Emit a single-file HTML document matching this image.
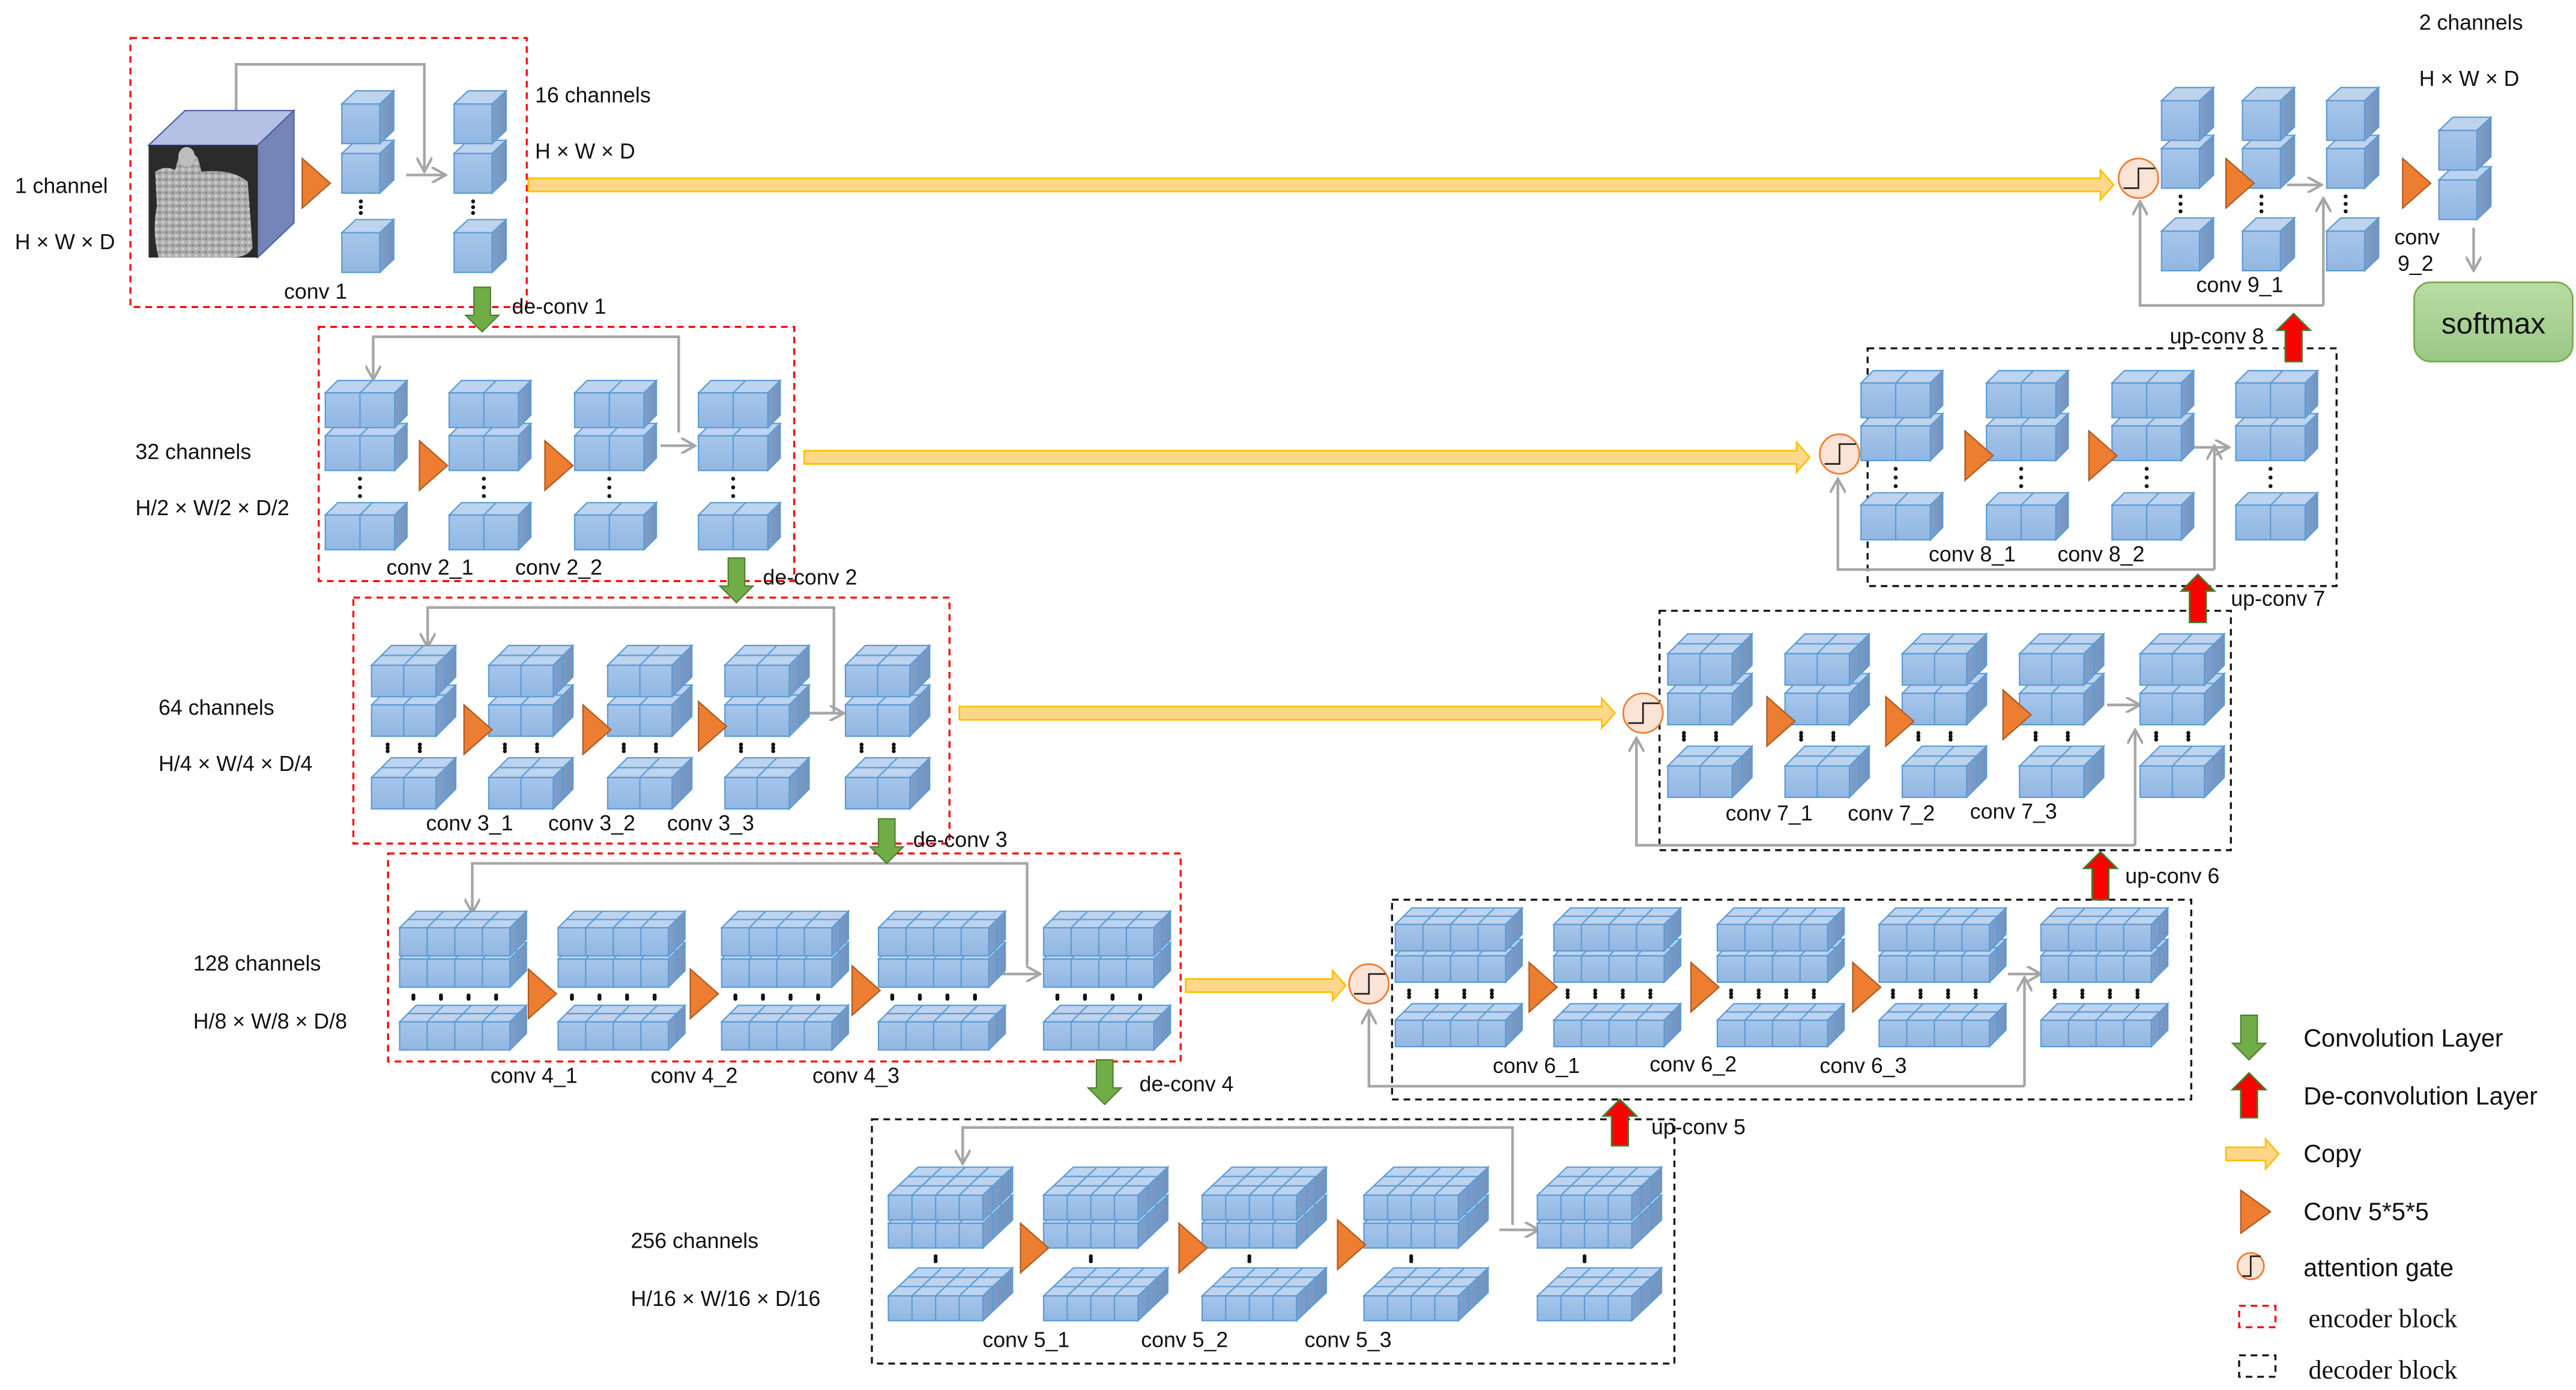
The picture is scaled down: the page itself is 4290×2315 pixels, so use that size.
<!DOCTYPE html>
<html><head><meta charset="utf-8">
<style>
html,body{margin:0;padding:0;background:#fff;}
svg{display:block;}
text{font-family:"Liberation Sans",sans-serif;fill:#111;}
</style></head>
<body>
<svg id="s" xmlns="http://www.w3.org/2000/svg" width="4290" height="2315" viewBox="0 0 1560 842" preserveAspectRatio="none">
<defs>
<linearGradient id="gf" x1="0" y1="0" x2="0" y2="1"><stop offset="0" stop-color="#a7c5ea"/><stop offset="1" stop-color="#91b7e2"/></linearGradient>
<linearGradient id="gs" x1="0" y1="0" x2="1" y2="0"><stop offset="0" stop-color="#7f9fcb"/><stop offset="1" stop-color="#7393bd"/></linearGradient>
<linearGradient id="gsm" x1="0" y1="0" x2="0" y2="1"><stop offset="0" stop-color="#b9dca5"/><stop offset="1" stop-color="#9cc785"/></linearGradient>
<pattern id="noise" width="4" height="4" patternUnits="userSpaceOnUse"><rect width="4" height="4" fill="#b0b0b0"/><rect x="0" y="0" width="1.5" height="1.5" fill="#8a8a8a"/><rect x="2" y="2" width="1.5" height="1.5" fill="#d0d0d0"/><rect x="2.5" y="0.3" width="1" height="1" fill="#999"/></pattern>
<marker id="ga" viewBox="0 0 10 10" refX="9" refY="5" markerWidth="6" markerHeight="6" orient="auto"><path d="M0,0 L9,5 L0,10" fill="none" stroke="#a6a6a6" stroke-width="1.6"/></marker>
</defs>
<g id="root"></g>
</svg>
<script>
var R=document.getElementById('root');var out=[];
function P(s){out.push(s);}
function slab(x,y,cols,w,h,dx,dy,rows){
 var W=cols*w, st='stroke="#5b9bd5" stroke-width="0.8"';
 P('<polygon points="'+x+','+y+' '+(x+W)+','+y+' '+(x+W+dx)+','+(y-dy)+' '+(x+dx)+','+(y-dy)+'" fill="#bdd3ee" '+st+'/>');
 P('<polygon points="'+(x+W)+','+y+' '+(x+W+dx)+','+(y-dy)+' '+(x+W+dx)+','+(y+h-dy)+' '+(x+W)+','+(y+h)+'" fill="url(#gs)" '+st+'/>');
 P('<rect x="'+x+'" y="'+y+'" width="'+W+'" height="'+h+'" fill="url(#gf)" '+st+'/>');
 for(var i=1;i<cols;i++){var xx=x+i*w;P('<line x1="'+xx+'" y1="'+y+'" x2="'+xx+'" y2="'+(y+h)+'" '+st+'/><line x1="'+xx+'" y1="'+y+'" x2="'+(xx+dx)+'" y2="'+(y-dy)+'" '+st+'/>');}
 for(var r=1;r<rows;r++){var f=r/rows;P('<line x1="'+(x+dx*f)+'" y1="'+(y-dy*f)+'" x2="'+(x+W+dx*f)+'" y2="'+(y-dy*f)+'" '+st+'/><line x1="'+(x+W+dx*f)+'" y1="'+(y-dy*f)+'" x2="'+(x+W+dx*f)+'" y2="'+(y+h-dy*f)+'" '+st+'/>');}
}
function stack(x,c){
 var W=c.cols*c.w;
 if(c.b!=null)slab(x,c.b,c.cols,c.w,c.h,c.dx,c.dy,c.rows);
 slab(x,c.s,c.cols,c.w,c.h,c.dx,c.dy,c.rows);
 slab(x,c.t,c.cols,c.w,c.h,c.dx,c.dy,c.rows);
 if(c.b!=null){var nd=c.dots||1;var y1=c.s+c.h+5,y2=c.b-c.dy-4;
  for(var k=0;k<nd;k++){var cx=nd==1?x+W/2:x+c.w*(k+0.5);
   for(var j=0;j<3;j++){P('<circle cx="'+cx+'" cy="'+(y1+(y2-y1)*j/2)+'" r="1.2" fill="#111"/>');}}}
}
function level(xs,c){xs.forEach(function(x){stack(x,c);});}
function tri(x,cy){P('<polygon points="'+x+','+(cy-15)+' '+(x+17)+','+cy+' '+x+','+(cy+15)+'" fill="#ed7d31" stroke="#ae5a21" stroke-width="0.8"/>');}
function gline(pts,arrow){P('<polyline points="'+pts+'" fill="none" stroke="#a6a6a6" stroke-width="1.6" '+(arrow?'marker-end="url(#ga)"':'')+'/>');}
function copy(x1,x2,y){P('<polygon points="'+x1+','+(y-4)+' '+(x2-8)+','+(y-4)+' '+(x2-8)+','+(y-9)+' '+x2+','+y+' '+(x2-8)+','+(y+9)+' '+(x2-8)+','+(y+4)+' '+x1+','+(y+4)+'" fill="#ffd78a" stroke="#ffc000" stroke-width="1"/>');}
function gate(cx,cy,r){P('<ellipse cx="'+cx+'" cy="'+cy+'" rx="'+r+'" ry="'+r+'" fill="#fbe3d5" stroke="#ed7d31" stroke-width="1"/><polyline points="'+(cx-r+3)+','+(cy+6)+' '+cx+','+(cy+6)+' '+cx+','+(cy-6)+' '+(cx+r-2)+','+(cy-6)+'" fill="none" stroke="#222" stroke-width="1"/>');}
function down(cx,y1,y2){P('<polygon points="'+(cx-5)+','+y1+' '+(cx+5)+','+y1+' '+(cx+5)+','+(y2-10)+' '+(cx+10)+','+(y2-10)+' '+cx+','+y2+' '+(cx-10)+','+(y2-10)+' '+(cx-5)+','+(y2-10)+'" fill="#70ad47" stroke="#507e32" stroke-width="0.8"/>');}
function up(cx,y1,y2){P('<polygon points="'+(cx-5)+','+y2+' '+(cx+5)+','+y2+' '+(cx+5)+','+(y1+10)+' '+(cx+10)+','+(y1+10)+' '+cx+','+y1+' '+(cx-10)+','+(y1+10)+' '+(cx-5)+','+(y1+10)+'" fill="#ff0000" stroke="#3f7a2a" stroke-width="1"/>');}
function box(x1,y1,x2,y2,col){P('<rect x="'+x1+'" y="'+y1+'" width="'+(x2-x1)+'" height="'+(y2-y1)+'" fill="none" stroke="'+col+'" stroke-width="1.2" stroke-dasharray="4,3"/>');}
function T(x,y,s,sz,extra){P('<text x="'+x+'" y="'+y+'" font-size="'+(sz||13)+'" '+(extra||'')+'>'+s+'</text>');}

box(79,23,319,186,'#ff0000');box(193,198,481,352,'#ff0000');box(214,362,575,511,'#ff0000');box(235,517,715,643,'#ff0000');
box(528,678,1014,826,'#111');box(843,545,1327,666,'#111');box(1005,370,1351,515,'#111');box(1131,211,1415,355,'#111');

gline('143,67 143,39 257,39 257,104',true);gline('246,106 270,106',true);
gline('411,262 411,204 226,204 226,230',true);gline('400,270 421,270',true);
gline('505,432 505,368 259,368 259,392',true);gline('490,432 511,432',true);
gline('622,585 622,523 286,523 286,553',true);gline('602,590 630,590',true);
gline('916,742 916,683 583,683 583,705',true);gline('908,745 932,745',true);
gline('1226,658 829,658 829,612',true);gline('1226,658 1226,592',true);gline('1216,590 1236,590',true);
gline('1293,512 991,512 991,447',true);gline('1293,512 1293,442',true);gline('1276,427 1296,427',true);
gline('1341,345 1113,345 1113,290',true);gline('1341,345 1341,270',true);gline('1328,271 1350,271',true);
gline('1407,185 1296,185 1296,122',true);gline('1407,185 1407,120',true);gline('1385,112 1406,112',true);
gline('1498,138 1498,164',true);

P('<polygon points="90,88 156,88 178,67 112,67" fill="#b4c0e4" stroke="#4a5fa8" stroke-width="0.8"/>');
P('<polygon points="156,88 178,67 178,135 156,156" fill="#7585b8" stroke="#4a5fa8" stroke-width="0.8"/>');
P('<rect x="90" y="88" width="66" height="68" fill="#2b2b2b"/>');
P('<path d="M94,104 Q100,100 106,103 L108,96 Q113,88 120,96 L122,104 Q140,102 150,110 L153,150 Q150,156 140,156 L96,156 Q92,140 95,125 Z" fill="url(#noise)"/>');
P('<ellipse cx="113" cy="95" rx="5" ry="6" fill="#bdbdbd"/>');

level([207,275],{cols:1,w:23,h:24,dx:8.5,dy:8,rows:1,t:63,s:93,b:141,dots:1});
level([197,272,348,423],{cols:2,w:21,h:21,dx:7.5,dy:7.5,rows:1,t:238,s:264,b:312,dots:1});
level([225,296,368,439,512],{cols:2,w:19.5,h:19,dx:12,dy:12,rows:2,t:403,s:427,b:471,dots:2});
level([242,338,437,532,632],{cols:4,w:16.7,h:17,dx:10,dy:10,rows:2,t:562,s:581,b:619,dots:4});
level([538,632,728,826,931],{cols:4,w:14.3,h:15,dx:18,dy:17,rows:3,t:724,s:741,b:785,dots:1});
level([845,941,1040,1138,1236],{cols:4,w:16.7,h:16,dx:10,dy:10,rows:2,t:560,s:579,b:618,dots:4});
level([1010,1081,1152,1223,1296],{cols:2,w:19.5,h:19,dx:12,dy:12,rows:2,t:396,s:420,b:464,dots:2});
level([1127,1203,1279,1354],{cols:2,w:21,h:21,dx:7.5,dy:7.5,rows:1,t:232,s:258,b:306,dots:1});
level([1309,1358,1409],{cols:1,w:23,h:24,dx:8.5,dy:8,rows:1,t:61,s:90,b:140,dots:1});
stack(1477,{cols:1,w:23,h:24,dx:8.5,dy:8,rows:1,t:79,s:109,b:null});

tri(183,111);tri(254,282);tri(330,282);
tri(281,442);tri(353,442);tri(423,440);
tri(320,602);tri(418,602);tri(516,600);
tri(618,756);tri(714,756);tri(810,754);
tri(926,598);tri(1024,598);tri(1122,598);
tri(1070,437);tri(1142,437);tri(1213,433);
tri(1190,276);tri(1265,276);
tri(1348,111);tri(1455,111);

copy(320,1280,112);copy(487,1096,277);copy(581,978,432);copy(718,815,597);
gate(1295,108,12);gate(1114,275,12);gate(995,432,12);gate(829,596,12);

down(292,174,201);down(446,338,365);down(537,496,523);down(669,642,669);
up(981,666,694);up(1272,516,545);up(1331,348,377);up(1389,190,219);

P('<rect x="1462" y="171" width="96" height="48" rx="10" fill="url(#gsm)" stroke="#70ad47" stroke-width="1"/>');
T(1510,202,'softmax',18,'text-anchor="middle"');

T(9,117,'1 channel');T(9,151,'H × W × D');T(324,62,'16 channels');T(324,96,'H × W × D');
T(82,278,'32 channels');T(82,312,'H/2 × W/2 × D/2');T(96,433,'64 channels');T(96,467,'H/4 × W/4 × D/4');
T(117,588,'128 channels');T(117,623,'H/8 × W/8 × D/8');T(382,756,'256 channels');T(382,791,'H/16 × W/16 × D/16');
T(1465,18,'2 channels');T(1465,52,'H × W × D');
T(310,190,'de-conv 1');T(462,354,'de-conv 2');T(553,513,'de-conv 3');T(690,661,'de-conv 4');
T(1000,687,'up-conv 5');T(1287,535,'up-conv 6');T(1351,367,'up-conv 7');T(1314,208,'up-conv 8');
T(172,181,'conv 1');T(234,348,'conv 2_1');T(312,348,'conv 2_2');
T(258,503,'conv 3_1');T(332,503,'conv 3_2');T(404,503,'conv 3_3');
T(297,656,'conv 4_1');T(394,656,'conv 4_2');T(492,656,'conv 4_3');
T(595,816,'conv 5_1');T(691,816,'conv 5_2');T(790,816,'conv 5_3');
T(904,650,'conv 6_1');T(999,649,'conv 6_2');T(1102,650,'conv 6_3');
T(1045,497,'conv 7_1');T(1119,497,'conv 7_2');T(1193,496,'conv 7_3');
T(1168,340,'conv 8_1');T(1246,340,'conv 8_2');T(1330,177,'conv 9_1');
T(1450,148,'conv');T(1452,164,'9_2');

down(1362,615,642);T(1395,634,'Convolution Layer',15);
up(1362,650,677);T(1395,669,'De-convolution Layer',15);
copy(1348,1380,699);T(1395,704,'Copy',15);
P('<polygon points="1357,721 1375,734 1357,747" fill="#ed7d31" stroke="#ae5a21" stroke-width="0.8"/>');T(1395,739,'Conv 5*5*5',15);
gate(1363,767,8);T(1395,773,'attention gate',15);
box(1356,791,1378,804,'#ff0000');T(1398,804,'encoder block',16,'style="font-family:\'Liberation Serif\',serif"');
box(1356,821,1378,834,'#111');T(1398,835,'decoder block',16,'style="font-family:\'Liberation Serif\',serif"');

R.innerHTML=out.join('');
</script>
</body></html>
